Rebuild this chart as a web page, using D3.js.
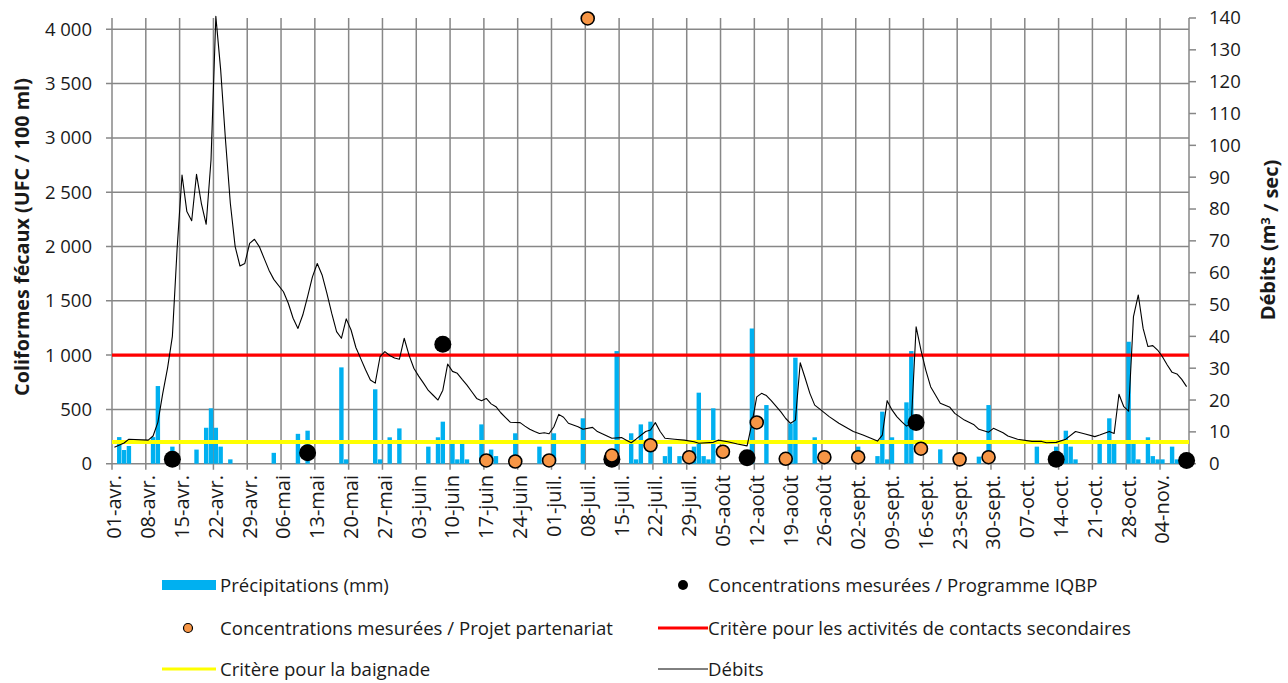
<!DOCTYPE html>
<html>
<head>
<meta charset="utf-8">
<script src="https://cdn.jsdelivr.net/npm/d3@7"></script>
<style>
  body { margin: 0; background: #fff; }
  svg text { font-family: "Open Sans", sans-serif; fill: #1a1a1a; }
</style>
</head>
<body>
<svg id="chart" width="1288" height="683"></svg>
<script>
// --- data ---
const year = 2013;
const monthNames = ["janv.", "févr.", "mars", "avr.", "mai", "juin", "juil.", "août", "sept.", "oct.", "nov.", "déc."];

// précipitations, plotted on the left scale
const precipDates = ["04-02","04-03","04-04","04-09","04-10","04-13","04-18","04-20","04-21","04-22","04-23","04-25",
  "05-04","05-09","05-11","05-18","05-19","05-25","05-26","05-28","05-30",
  "06-05","06-07","06-08","06-10","06-11","06-12","06-13","06-16","06-18","06-19","06-23","06-28",
  "07-01","07-07","07-14","07-17","07-18","07-19","07-21","07-24","07-25","07-27","07-30","07-31",
  "08-01","08-02","08-03","08-11","08-14","08-19","08-20","08-24",
  "09-02","09-06","09-07","09-08","09-09","09-12","09-13","09-19","09-27","09-29",
  "10-09","10-13","10-15","10-16","10-17","10-22","10-24","10-25","10-28","10-29","10-30",
  "11-01","11-02","11-03","11-04","11-06","11-07"];
const precipValues = [245,126,163,245,715,157,130,331,510,331,157,40,
  100,275,304,887,40,685,40,243,325,
  157,243,387,210,40,210,40,362,130,70,280,157,
  280,418,1037,280,40,362,387,70,157,70,157,654,
  70,40,510,1245,540,370,976,243,
  157,70,479,40,243,565,1037,132,65,540,
  157,157,304,157,40,200,418,190,1123,185,40,
  243,70,40,40,157,40];

// débits (m3/s), right scale
const flowDates = ["04-01","04-03","04-04","04-08","04-09","04-10","04-11","04-12","04-13","04-14","04-15","04-16","04-17","04-18","04-19","04-20","04-21","04-22","04-23","04-24","04-25","04-26","04-27","04-28","04-29","04-30",
  "05-01","05-02","05-03","05-04","05-06","05-07","05-08","05-09","05-10","05-11","05-12","05-13","05-14","05-15","05-16","05-17","05-18","05-19","05-20","05-21","05-22","05-23","05-24","05-25","05-26","05-27","05-28","05-29","05-30","05-31",
  "06-01","06-02","06-03","06-04","06-05","06-06","06-07","06-08","06-09","06-10","06-11","06-12","06-13","06-14","06-15","06-16","06-17","06-18","06-19","06-20","06-21","06-22","06-24","06-25","06-26","06-27","06-28","06-29","06-30",
  "07-01","07-02","07-03","07-04","07-06","07-07","07-09","07-10","07-12","07-13","07-15","07-16","07-17","07-18","07-20","07-21","07-22","07-23","07-24","07-26","07-28","07-30","07-31",
  "08-03","08-04","08-06","08-08","08-10","08-11","08-12","08-13","08-14","08-15","08-17","08-18","08-19","08-20","08-21","08-22","08-23","08-24","08-25","08-27","08-29","08-31",
  "09-01","09-03","09-04","09-06","09-07","09-08","09-09","09-10","09-11","09-12","09-13","09-14","09-15","09-16","09-17","09-19","09-21","09-22","09-24","09-26","09-27","09-29","09-30",
  "10-02","10-03","10-05","10-08","10-10","10-11","10-13","10-15","10-17","10-19","10-21","10-22","10-24","10-25","10-26","10-27","10-28","10-29","10-30","10-31",
  "11-01","11-02","11-03","11-04","11-05","11-06","11-07","11-08","11-09"];
const flowValues = [5.2,6.5,7.7,7.4,8.7,13,22,30,40,68,90.7,79.2,76.3,90.9,81.8,75.2,95.4,140.5,123.7,101.7,81.8,68.2,62.1,62.9,69.2,70.5,
  68.2,64.5,60.8,57.9,54,50.4,45.7,42.5,46.7,52.5,58.7,62.9,59.3,53.5,47.2,41.5,39.4,45.5,42,36.5,33,29.5,26.3,25.3,33.6,35.2,34,33.2,32.8,39.4,
  34.1,30,27.5,25.3,23,21.5,20,23.1,31.3,29,28.4,26.5,24.7,22.6,20.5,19.8,20.5,18.8,17.9,16,14.5,13,12.9,11.8,10.8,10.1,9.5,9.7,9.4,
  11.6,15.5,14.6,12.7,11.6,10.8,11.4,10.1,8.7,8,8.2,7.4,6.6,7.7,10.1,10.6,12.9,10.1,8,7.7,7.4,6.9,6.4,
  6.7,7.4,6.9,6.2,5.6,12.7,21,22.1,21.4,19.8,16.3,14.2,12.7,13.7,31.7,27,22.1,18.4,17.2,14.8,12.7,11,
  10.1,9,8.4,7.1,9,19.8,16.9,14.8,13.2,11.8,12.7,43,35.7,29.4,24.2,19,17.7,15.8,13.7,12.2,10.8,9.9,11.1,
  9.7,8.7,7.7,7,7,6.6,6.7,7.7,10.1,9.3,8.5,9,10.1,9.5,21.8,17.9,16.5,46.2,53,42.5,
  36.8,37.1,35.7,33.6,31,28.7,28.2,26.5,24.2];

// concentrations mesurées (UFC/100 ml)
const iqbpDates = ["04-13","05-11","06-08","07-13","08-10","09-14","10-13","11-09"];
const iqbpValues = [40,100,1100,40,55,380,40,30];
const partDates = ["06-17","06-23","06-30","07-08","07-13","07-21","07-29","08-05","08-12","08-18","08-26","09-02","09-15","09-23","09-29"];
const partValues = [30,20,30,4100,75,170,60,110,380,45,60,60,138,40,60];

// critères
const critSecondaire = 1000;
const critBaignade = 200;

const leftTicks = [0,500,1000,1500,2000,2500,3000,3500,4000];
const rightTicks = d3.range(0, 141, 10);

// --- setup ---
const parse = s => new Date(Date.UTC(year, +s.slice(0,2) - 1, +s.slice(3,5)));
const mid = s => d3.utcHour.offset(parse(s), 12);

const svg = d3.select("#chart");
const plotL = 112, plotR = 1189, plotT = 18, plotB = 463.7;
const start = parse("04-01"), end = parse("11-10");

const x = d3.scaleUtc().domain([start, end]).range([plotL, plotR]);
const yL = d3.scaleLinear().domain([0, 4104]).range([plotB, plotT]);
const yR = d3.scaleLinear().domain([0, 140]).range([plotB, plotT]);
const fmt = d3.formatLocale({decimal: ",", thousands: "\u00a0", grouping: [3], currency: ["", " €"]}).format(",d");

const weekTicks = d3.range(0, 32).map(i => d3.utcDay.offset(start, i * 7));
const labelOf = d => d3.utcFormat("%d")(d) + "-" + monthNames[d.getUTCMonth()];

const gridColor = "#878787";

// grid
const grid = svg.append("g");
grid.selectAll(".hg").data(leftTicks).join("line")
  .attr("x1", plotL - 6).attr("x2", plotR)
  .attr("y1", d => yL(d)).attr("y2", d => yL(d))
  .attr("stroke", gridColor).attr("stroke-width", 1.5);
grid.selectAll(".vg").data(weekTicks).join("line")
  .attr("x1", d => x(d)).attr("x2", d => x(d))
  .attr("y1", plotT).attr("y2", plotB + 6)
  .attr("stroke", gridColor).attr("stroke-width", 1.5);
// right axis line + ticks
grid.append("line").attr("x1", plotR).attr("x2", plotR).attr("y1", plotT).attr("y2", plotB)
  .attr("stroke", gridColor).attr("stroke-width", 1.5);
grid.selectAll(".rt").data(rightTicks).join("line")
  .attr("x1", plotR).attr("x2", plotR + 7)
  .attr("y1", d => yR(d)).attr("y2", d => yR(d))
  .attr("stroke", gridColor).attr("stroke-width", 1.5);

// bars
const barW = 4.4;
svg.append("g").selectAll("rect")
  .data(precipDates.map((d, i) => ({date: mid(d), v: precipValues[i]})))
  .join("rect")
  .attr("x", d => x(d.date) - barW / 2)
  .attr("width", barW)
  .attr("y", d => yL(d.v))
  .attr("height", d => yL(0) - yL(d.v))
  .attr("fill", "#00b0f0");

// criteria lines
svg.append("line").attr("x1", plotL).attr("x2", plotR)
  .attr("y1", yL(critSecondaire)).attr("y2", yL(critSecondaire))
  .attr("stroke", "#ff0000").attr("stroke-width", 3.3);
svg.append("line").attr("x1", plotL).attr("x2", plotR)
  .attr("y1", yL(critBaignade)).attr("y2", yL(critBaignade))
  .attr("stroke", "#ffff00").attr("stroke-width", 4);

// flow line
const line = d3.line().x(d => x(d.date)).y(d => yR(d.v));
svg.append("path")
  .datum(flowDates.map((d, i) => ({date: mid(d), v: flowValues[i]})))
  .attr("d", line)
  .attr("fill", "none").attr("stroke", "#000").attr("stroke-width", 1.1)
  .attr("stroke-linejoin", "round");

// points
svg.append("g").selectAll("circle")
  .data(iqbpDates.map((d, i) => ({date: mid(d), v: iqbpValues[i]})))
  .join("circle")
  .attr("cx", d => x(d.date)).attr("cy", d => yL(d.v)).attr("r", 8.5)
  .attr("fill", "#000");
svg.append("g").selectAll("circle")
  .data(partDates.map((d, i) => ({date: mid(d), v: partValues[i]})))
  .join("circle")
  .attr("cx", d => x(d.date)).attr("cy", d => yL(d.v)).attr("r", 6.5)
  .attr("fill", "#f79646").attr("stroke", "#000").attr("stroke-width", 1.6);

// tick labels
svg.append("g").selectAll("text").data(leftTicks).join("text")
  .attr("x", 92).attr("y", d => yL(d)).attr("dy", "0.35em")
  .attr("text-anchor", "end").style("font-size", "18.5px")
  .text(d => fmt(d));
svg.append("g").selectAll("text").data(rightTicks).join("text")
  .attr("x", 1209).attr("y", d => yR(d)).attr("dy", "0.35em")
  .style("font-size", "18.5px")
  .text(d => d);
svg.append("g").selectAll("text").data(weekTicks).join("text")
  .attr("transform", d => `translate(${x(d3.utcHour.offset(d, 12))},475) rotate(-90)`)
  .attr("dy", "0.35em").attr("text-anchor", "end")
  .style("font-size", "20px")
  .text(labelOf);

// axis titles
svg.append("text")
  .attr("transform", "translate(22,237) rotate(-90)")
  .attr("text-anchor", "middle").attr("dy", "0.35em")
  .style("font-size", "19.8px").style("font-weight", "bold")
  .text("Coliformes fécaux (UFC / 100 ml)");
const rt = svg.append("text")
  .attr("transform", "translate(1268,240) rotate(-90)")
  .attr("text-anchor", "middle").attr("dy", "0.35em")
  .style("font-size", "20px").style("font-weight", "bold");
rt.append("tspan").text("Débits (m");
rt.append("tspan").attr("dy", "-0.4em").style("font-size", "13px").text("3");
rt.append("tspan").attr("dy", "0.4em").text(" / sec)");

// legend
const legend = [
  {label: "Précipitations (mm)", type: "bar", x: 162, y: 585},
  {label: "Concentrations mesurées / Programme IQBP", type: "iqbp", x: 658, y: 585},
  {label: "Concentrations mesurées / Projet partenariat", type: "part", x: 162, y: 628},
  {label: "Critère pour les activités de contacts secondaires", type: "red", x: 658, y: 628},
  {label: "Critère pour la baignade", type: "yellow", x: 162, y: 669},
  {label: "Débits", type: "flow", x: 658, y: 669}
];
const lg = svg.append("g").selectAll("g").data(legend).join("g")
  .attr("transform", d => `translate(${d.x},${d.y})`);
lg.each(function(d) {
  const g = d3.select(this);
  if (d.type === "bar") g.append("rect").attr("x", 0).attr("y", -5).attr("width", 54).attr("height", 10).attr("fill", "#00b0f0");
  if (d.type === "iqbp") g.append("circle").attr("cx", 25).attr("r", 5).attr("fill", "#000");
  if (d.type === "part") g.append("circle").attr("cx", 26).attr("r", 4.5).attr("fill", "#f79646").attr("stroke", "#000").attr("stroke-width", 1.2);
  if (d.type === "red") g.append("line").attr("x2", 50).attr("stroke", "#ff0000").attr("stroke-width", 3);
  if (d.type === "yellow") g.append("line").attr("x2", 54).attr("stroke", "#ffff00").attr("stroke-width", 3);
  if (d.type === "flow") g.append("line").attr("x2", 50).attr("stroke", "#000").attr("stroke-width", 1);
  g.append("text").attr("x", d.x === 162 ? 58 : 50).attr("dy", "0.35em")
    .style("font-size", "18.6px").text(d.label);
});
</script>
</body>
</html>
